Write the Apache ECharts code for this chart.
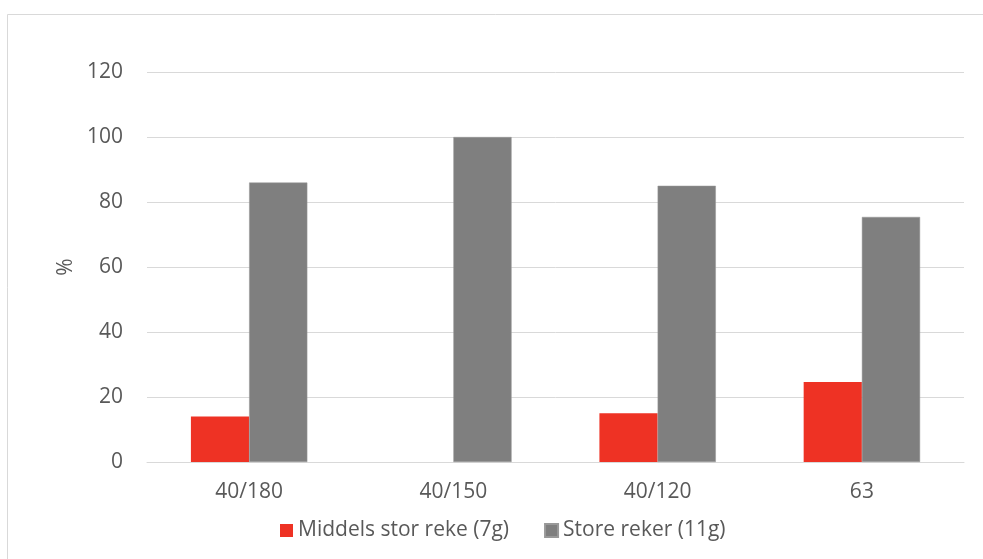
<!DOCTYPE html>
<html>
<head>
<meta charset="utf-8">
<script src="https://cdn.jsdelivr.net/npm/echarts@6/dist/echarts.min.js"></script>
<style>
html,body{margin:0;padding:0;background:#fff;}
#c{width:983px;height:559px;}
</style>
</head>
<body>
<div id="c"></div>
<script>
var categories = ['40/180', '40/150', '40/120', '63'];
var medium = [14, 0, 15, 24.6];
var large = [86, 100, 85, 75.4];
var seriesNames = ['Middels stor reke (7g)', 'Store reker (11g)'];
var yTicks = { min: 0, max: 120, interval: 20 };

var font = 'Open Sans';
var textColor = '#595959';
var chart = echarts.init(document.getElementById('c'));
chart.setOption({
  animation: false,
  backgroundColor: '#fff',
  textStyle: { fontFamily: font },
  graphic: [{
    type: 'rect',
    shape: { x: 7.5, y: 14.5, width: 1000, height: 600 },
    style: { fill: 'none', stroke: '#d9d9d9', lineWidth: 1 },
    silent: true
  }],
  grid: { left: 147, right: 19, top: 72, bottom: 97 },
  legend: {
    left: 275, top: 515,
    itemWidth: 13, itemHeight: 13, itemGap: 35,
    icon: 'rect',
    textStyle: { fontFamily: font, fontSize: 21, color: textColor, lineHeight: 21 },
    data: seriesNames
  },
  xAxis: {
    type: 'category',
    data: categories,
    axisLine: { show: true, lineStyle: { color: '#d9d9d9', width: 1 } },
    axisTick: { show: false },
    axisLabel: { fontFamily: font, fontSize: 21, color: textColor, margin: 20, lineHeight: 21 }
  },
  yAxis: {
    type: 'value',
    min: yTicks.min, max: yTicks.max, interval: yTicks.interval,
    name: '%',
    nameLocation: 'middle',
    nameGap: 70,
    nameRotate: 90,
    nameTextStyle: { fontFamily: font, fontSize: 21, color: textColor },
    axisLine: { show: false },
    axisTick: { show: false },
    axisLabel: { fontFamily: font, fontSize: 21, color: textColor, margin: 24 },
    splitLine: { lineStyle: { color: '#d9d9d9', width: 1 } }
  },
  series: [
    {
      name: seriesNames[0], type: 'bar', data: medium,
      barGap: '0%', barCategoryGap: '43%',
      itemStyle: { color: '#ee3224' }
    },
    {
      name: seriesNames[1], type: 'bar', data: large,
      barGap: '0%', barCategoryGap: '43%',
      itemStyle: { color: '#7f7f7f', borderColor: '#999999', borderWidth: 0.5 }
    }
  ]
});
</script>
</body>
</html>
